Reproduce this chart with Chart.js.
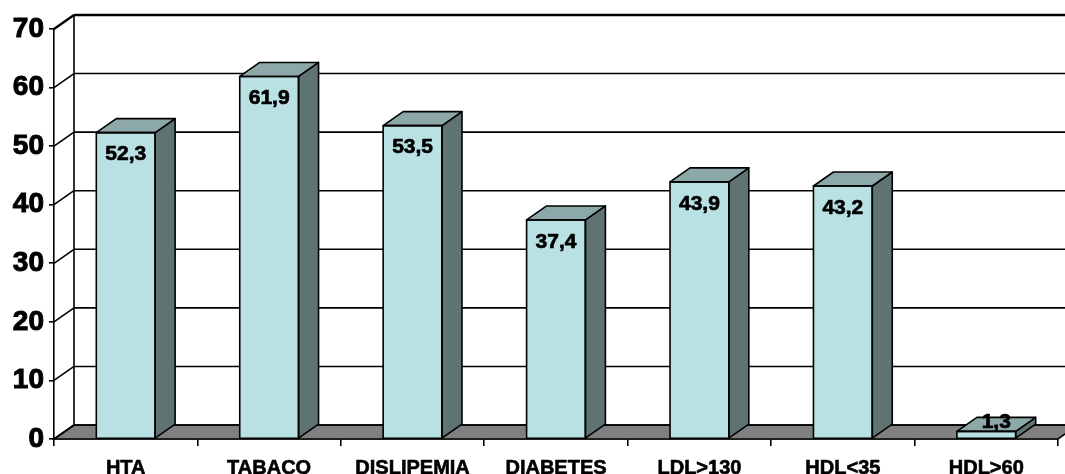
<!DOCTYPE html>
<html>
<head>
<meta charset="utf-8">
<script src="https://cdn.jsdelivr.net/npm/chart.js@4/dist/chart.umd.min.js"></script>
<style>
  html, body { margin: 0; padding: 0; background: #fff; }
  canvas { display: block; }
</style>
</head>
<body>
<canvas id="chart" width="1065" height="474"></canvas>
<script>
// Cardiovascular risk factors (%)
const categories = ['HTA', 'TABACO', 'DISLIPEMIA', 'DIABETES', 'LDL>130', 'HDL<35', 'HDL>60'];
const percentages = [52.3, 61.9, 53.5, 37.4, 43.9, 43.2, 1.3];
const yTicks = [0, 10, 20, 30, 40, 50, 60, 70];

// depth offset of the 3D box (pixels)
const DEPTH_X = 20;
const DEPTH_Y = -14;
const FONT = "'Liberation Sans', Arial, sans-serif";
const LINE = 1.6;

const FRONT = '#B9E0E3';
const TOP = '#8DA8A9';
const SIDE = '#5F7373';
const FLOOR = '#808080';

function poly(ctx, pts, fill) {
  ctx.beginPath();
  ctx.moveTo(pts[0][0], pts[0][1]);
  for (let i = 1; i < pts.length; i++) ctx.lineTo(pts[i][0], pts[i][1]);
  ctx.closePath();
  if (fill) { ctx.fillStyle = fill; ctx.fill(); }
  ctx.stroke();
}

const box3d = {
  id: 'box3d',
  beforeDraw(chart) {
    const ctx = chart.ctx;
    ctx.save();
    ctx.fillStyle = '#fff';
    ctx.fillRect(0, 0, chart.width, chart.height);
    ctx.restore();
  },
  beforeDatasetsDraw(chart) {
    const { ctx, chartArea: a, scales: { y } } = chart;
    ctx.save();
    ctx.strokeStyle = '#000';
    ctx.lineWidth = LINE;
    // floor
    poly(ctx, [
      [a.left, a.bottom], [a.right, a.bottom],
      [a.right + DEPTH_X, a.bottom + DEPTH_Y], [a.left + DEPTH_X, a.bottom + DEPTH_Y]
    ], FLOOR);
    // back wall grid lines and side wall diagonals
    const topVal = yTicks[yTicks.length - 1];
    yTicks.forEach(v => {
      const py = y.getPixelForValue(v);
      ctx.lineWidth = v === topVal ? 2.4 : LINE;
      ctx.beginPath();
      ctx.moveTo(a.left + DEPTH_X, py + DEPTH_Y);
      ctx.lineTo(chart.width + DEPTH_X, py + DEPTH_Y);
      ctx.moveTo(a.left, py);
      ctx.lineTo(a.left + DEPTH_X, py + DEPTH_Y);
      ctx.stroke();
    });
    // back wall left edge
    ctx.lineWidth = LINE;
    ctx.beginPath();
    ctx.moveTo(a.left + DEPTH_X, y.getPixelForValue(topVal) + DEPTH_Y);
    ctx.lineTo(a.left + DEPTH_X, a.bottom + DEPTH_Y);
    ctx.stroke();
    ctx.restore();
  },
  afterDatasetsDraw(chart) {
    const ctx = chart.ctx;
    const meta = chart.getDatasetMeta(0);
    const values = chart.data.datasets[0].data;
    ctx.save();
    ctx.strokeStyle = '#000';
    ctx.lineWidth = LINE;
    ctx.lineJoin = 'round';
    meta.data.forEach((el) => {
      const p = el.getProps(['x', 'y', 'base', 'width'], true);
      const l = p.x - p.width / 2, r = p.x + p.width / 2;
      // side face
      poly(ctx, [[r, p.y], [r + DEPTH_X, p.y + DEPTH_Y], [r + DEPTH_X, p.base + DEPTH_Y], [r, p.base]], SIDE);
      // top face
      poly(ctx, [[l, p.y], [l + DEPTH_X, p.y + DEPTH_Y], [r + DEPTH_X, p.y + DEPTH_Y], [r, p.y]], TOP);
      // front outline
      ctx.strokeRect(l, p.y, p.width, p.base - p.y);
    });
    // value labels
    ctx.fillStyle = '#000';
    ctx.lineWidth = 0.7;
    ctx.font = 'bold 21px ' + FONT;
    ctx.textAlign = 'center';
    ctx.textBaseline = 'middle';
    meta.data.forEach((el, i) => {
      const p = el.getProps(['x', 'y', 'base', 'width'], true);
      const text = values[i].toFixed(1).replace('.', ',');
      let lx = p.x, ly = p.y + 22;
      if (ly + 12 > p.base) {
        lx = p.x + DEPTH_X / 2;
        ly = p.y + DEPTH_Y / 2 - 2;
      }
      ctx.fillText(text, lx, ly);
      ctx.strokeText(text, lx, ly);
    });
    ctx.restore();
  }
};

new Chart(document.getElementById('chart'), {
  type: 'bar',
  data: {
    labels: categories,
    datasets: [{
      data: percentages,
      backgroundColor: FRONT,
      borderColor: '#000',
      borderWidth: 0,
      categoryPercentage: 1,
      barPercentage: 0.41
    }]
  },
  plugins: [box3d],
  options: {
    responsive: false,
    animation: false,
    layout: { padding: { top: 29, right: 7, left: 0, bottom: 0 } },
    plugins: {
      legend: { display: false },
      tooltip: { enabled: false }
    },
    scales: {
      x: {
        grid: {
          offset: true, drawOnChartArea: false, drawTicks: true,
          tickLength: 7, color: '#000', lineWidth: LINE
        },
        border: { display: true, color: '#000', width: LINE },
        ticks: {
          color: '#000', padding: 10, maxRotation: 0, autoSkip: false,
          textStrokeColor: '#000', textStrokeWidth: 0.6,
          font: { family: FONT, size: 20, weight: 'bold' }
        },
        afterFit(s) { s.height = 35; }
      },
      y: {
        min: 0, max: 70,
        afterBuildTicks(s) { s.ticks = yTicks.map(v => ({ value: v })); },
        grid: {
          drawOnChartArea: false, drawTicks: true,
          tickLength: 5, color: '#000', lineWidth: LINE
        },
        border: { display: true, color: '#000', width: LINE },
        ticks: {
          color: '#000', padding: 5,
          textStrokeColor: '#000', textStrokeWidth: 1,
          font: { family: FONT, size: 28, weight: 'bold' }
        },
        afterFit(s) { s.width = 54; }
      }
    }
  }
});
</script>
</body>
</html>
